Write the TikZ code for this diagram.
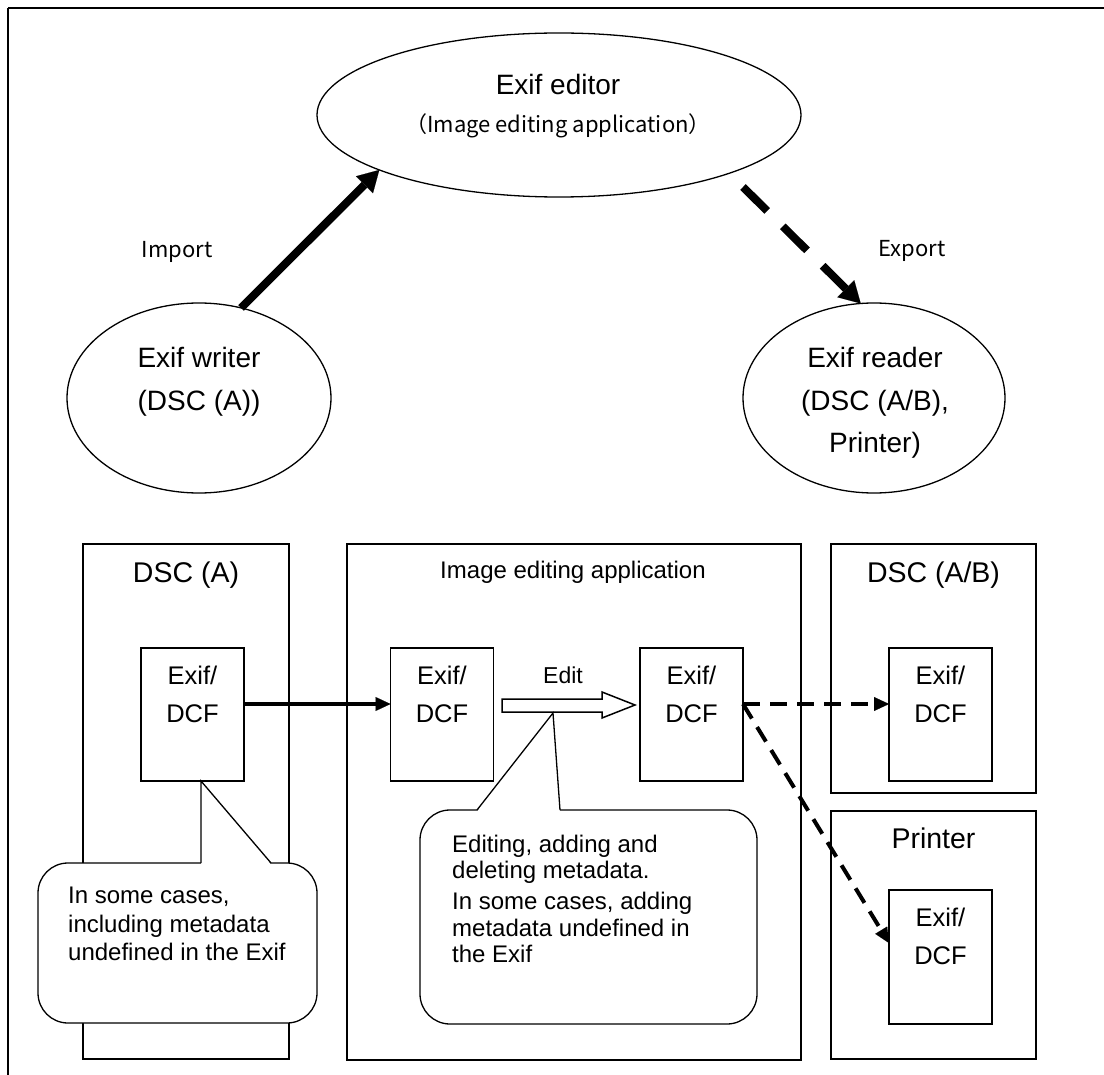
\documentclass[tikz,border=0pt]{standalone}
\usepackage{fontspec}
\setmainfont{Liberation Sans}
\newfontfamily\jpfont{Noto Sans CJK JP}
\usetikzlibrary{arrows.meta,shapes.geometric,calc}
\begin{document}
\begin{tikzpicture}[x=1pt,y=-1pt,line join=miter,
  ell/.style={draw,ellipse,line width=1.3pt,inner sep=0pt,outer sep=0pt},
  frame/.style={draw,line width=2pt,inner sep=0pt,outer sep=0pt},
  exbox/.style={draw,line width=1.6pt,inner sep=0pt,outer sep=0pt,minimum width=103pt,minimum height=133pt},
  bubble/.style={draw,fill=white,line width=1.3pt,rounded corners=30pt,inner sep=0pt,outer sep=0pt},
  elltxt/.style={inner sep=0pt,font=\fontsize{28}{34}\selectfont},
  subtxt/.style={inner sep=0pt,font=\jpfont\fontsize{22}{26}\selectfont},
  iotxt/.style={inner sep=0pt,font=\jpfont\fontsize{22}{26}\selectfont},
  titletxt/.style={inner sep=0pt,font=\fontsize{28.5}{34}\selectfont},
  apptxt/.style={inner sep=0pt,font=\fontsize{24}{28}\selectfont},
  extxt/.style={inner sep=0pt,align=center,font=\fontsize{25.5}{38}\selectfont},
  bubtxt/.style={inner sep=0pt,align=left,font=\fontsize{24}{28.5}\selectfont},
  bigarrow/.style={line width=8pt,-{Triangle[length=21pt,width=24pt,line width=0.1pt]}},
  bigdash/.style={bigarrow,dash pattern=on 34pt off 22pt},
  smallarrow/.style={line width=4pt,-{Triangle[length=15pt,width=14pt,line width=0.1pt]}},
  smalldash/.style={smallarrow,dash pattern=on 17pt off 10pt},
  tail/.style={line width=1.3pt}
]
\useasboundingbox (0,0) rectangle (1104,1075);
% outer frame
\coordinate (fo) at (8,8);
\coordinate (fr) at (1104,8);
\coordinate (fb) at (8,1075);
\draw[line width=2pt] (fr) -- (fo);
\draw[line width=1.5pt] (fo) -- (fb);

% ellipses
\node[ell,minimum width=484pt,minimum height=164pt] (editor) at (559,115) {};
\node[ell,minimum width=264pt,minimum height=190pt] (writer) at (199,398) {};
\node[ell,minimum width=262pt,minimum height=190pt] (reader) at (874,398) {};
\node[elltxt,anchor=base] (edt1) at (558,95) {Exif editor};
\node[subtxt,anchor=base] (edt2) at (558,133) {（Image editing application）};
\node[elltxt,anchor=base] (wrt1) at (199,368) {Exif writer};
\node[elltxt,anchor=base] (wrt2) at (199,411) {(DSC (A))};
\node[elltxt,anchor=base] (rdt1) at (875,368) {Exif reader};
\node[elltxt,anchor=base] (rdt2) at (875,411) {(DSC (A/B),};
\node[elltxt,anchor=base] (rdt3) at (875,453) {Printer)};
\node[iotxt] (import) at (177,252) {Import};
\node[iotxt] (export) at (912,251) {Export};

% top arrows
\coordinate (exs) at (743,187);
\draw[bigarrow] (writer.65) -- (editor.197);
\draw[bigdash] (exs) -- (reader.98);

% outer boxes
\node[frame,minimum width=206pt,minimum height=515pt] (dscA) at (186,801.5) {};
\node[frame,minimum width=454pt,minimum height=516pt] (app) at (574,802) {};
\node[frame,minimum width=205pt,minimum height=249pt] (dscAB) at (933.5,668.5) {};
\node[frame,minimum width=205pt,minimum height=248pt] (printer) at (933.5,935) {};
\node[titletxt,anchor=base] (dscAt) at (186,582) {DSC (A)};
\node[apptxt,anchor=base] (appt) at (573,578) {Image editing application};
\node[titletxt,anchor=base] (dscABt) at (933.5,582) {DSC (A/B)};
\node[titletxt,anchor=base] (printert) at (933.5,848) {Printer};

% Exif/DCF boxes
\node[exbox] (ex1) at (192.5,714.5) {};
\node[exbox] (ex2) at (442,714.5) {};
\node[exbox] (ex3) at (691.5,714.5) {};
\node[exbox] (ex4) at (940.5,714.5) {};
\node[exbox,minimum height=134pt] (ex5) at (940.5,957) {};
\foreach \b in {ex1,ex2,ex3,ex4,ex5}{
  \node[extxt,anchor=north] (\b t) at ([yshift=-17.4pt]\b.north) {Exif/\\DCF};
}

% bottom arrows
\draw[smallarrow] ([yshift=10.5pt]ex1.east) -- ([yshift=10.5pt]ex2.west);
\draw[smalldash] ([yshift=10.5pt]ex3.east) -- ([yshift=10.5pt]ex4.west);
\draw[smalldash] ([yshift=10.5pt]ex3.east) -- ([yshift=14pt]ex5.west);

% Edit hollow arrow
\draw[line width=1.5pt,fill=white] (502,699) -- (602,699) -- (602,692) -- (635,705)
  -- (602,718) -- (602,712) -- (502,712) -- cycle;
\node[apptxt,font=\fontsize{23}{28}\selectfont,anchor=base] (edit) at (563,683) {Edit};

% callout 1
\node[bubble,minimum width=279pt,minimum height=160pt] (bub1) at (177.5,943) {};
\coordinate (t1a) at (201,781);
\coordinate (t1l) at (201,863);
\coordinate (t1r) at (271,863);
\fill[white] (t1a) -- ([yshift=-1.5pt]t1r) -- ([yshift=-1.5pt]t1l) -- cycle;
\draw[tail] (t1l) -- (t1a) -- (t1r);
\node[bubtxt,anchor=north west] (bub1t) at (68,887) {In some cases,\\including metadata\\undefined in the Exif};

% callout 2
\node[bubble,minimum width=337pt,minimum height=214pt] (bub2) at (588.5,917) {};
\coordinate (t2a) at (553,713);
\coordinate (t2l) at (477,810);
\coordinate (t2r) at (560,810);
\fill[white] (t2a) -- ([yshift=-1.5pt]t2r) -- ([yshift=-1.5pt]t2l) -- cycle;
\draw[tail] (t2l) -- (t2a) -- (t2r);
\node[bubtxt,font=\fontsize{24}{26.5}\selectfont,anchor=north west] (bub2t) at (452,834.5)
  {Editing, adding and\\deleting metadata.\\[4.5pt]In some cases, adding\\metadata undefined in\\the Exif};
\end{tikzpicture}
\end{document}
